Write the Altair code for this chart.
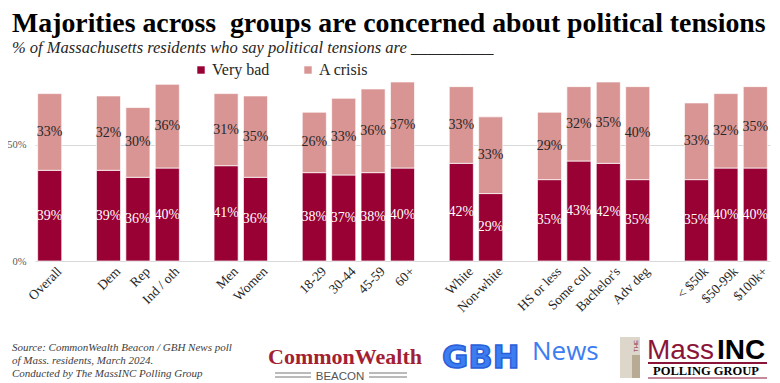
import altair as alt
import pandas as pd

# ---- data ----
slots = ["Overall", "gap1", "Dem", "Rep", "Ind / oth", "gap2", "Men", "Women", "gap3",
         "18-29", "30-44", "45-59", "60+", "gap4", "White", "Non-white", "gap5",
         "HS or less", "Some coll", "Bachelor's", "Adv deg", "gap6",
         "< $50k", "$50-99k", "$100k+"]
categories = [s for s in slots if not s.startswith("gap")]
very_bad = [39, 39, 36, 40, 41, 36, 38, 37, 38, 40, 42, 29, 35, 43, 42, 35, 35, 40, 40]
a_crisis = [33, 32, 30, 36, 31, 35, 26, 33, 36, 37, 33, 33, 29, 32, 35, 40, 33, 32, 35]
series = ["Very bad", "A crisis"]
y_ticks = [0, 0.5]

rows = []
for c, vb, ac in zip(categories, very_bad, a_crisis):
    rows.append({"cat": c, "series": series[0], "value": vb / 100, "order": 0})
    rows.append({"cat": c, "series": series[1], "value": ac / 100, "order": 1})
df = pd.DataFrame(rows)

DARK = "#990033"
LIGHT = "#d99594"
SERIF = "Liberation Serif"
SANS = "Liberation Sans"

x_scale = alt.Scale(domain=slots, paddingInner=0.18, paddingOuter=0.09)
x_enc = alt.X("cat:N", sort=slots, scale=x_scale,
              axis=alt.Axis(title=None, labelAngle=-45, ticks=False, domain=False,
                            labelFont=SERIF, labelFontSize=13.5, labelColor="#262626",
                            labelPadding=3, labelOffset=5,
                            labelExpr="indexof(datum.value, 'gap') == 0 ? '' : datum.value"))
y_scale = alt.Scale(domain=[0, 0.8])

base = alt.Chart(df)

bars = base.mark_bar(stroke="white", strokeWidth=0.7).encode(
    x=x_enc,
    y=alt.Y("value:Q", stack="zero", scale=y_scale,
            axis=alt.Axis(title=None, values=y_ticks, format=".0%", grid=True,
                          gridColor="#d9d9d9", domain=False, ticks=False,
                          labelFont=SERIF, labelFontSize=10.5, labelColor="#595959",
                          labelPadding=9)),
    color=alt.Color("series:N", scale=alt.Scale(domain=series, range=[DARK, LIGHT]),
                    legend=alt.Legend(title=None, orient="none", direction="horizontal",
                                      legendX=158, legendY=-13, symbolType="square",
                                      symbolSize=55, symbolStrokeWidth=0,
                                      labelFont=SERIF, labelFontSize=16,
                                      labelColor="#262626", columnPadding=30,
                                      labelOffset=3)),
    order=alt.Order("order:Q"),
)

labels = base.transform_stack(
    stack="value", groupby=["cat"], sort=[alt.SortField("order")], as_=["y0", "y1"]
).transform_calculate(
    mid="(datum.y0 + datum.y1) / 2",
    lab="format(datum.value, '.0%')"
).mark_text(font=SERIF, fontSize=14, baseline="middle").encode(
    x=alt.X("cat:N", sort=slots, scale=x_scale),
    y=alt.Y("mid:Q", scale=y_scale),
    text="lab:N",
    color=alt.condition("datum.series == 'Very bad'", alt.value("white"), alt.value("#262626")),
)

one = alt.Data(values=[{}])


def note(text, x, y, size, align="left", **kw):
    return alt.Chart(one).mark_text(text=text, fontSize=size, align=align,
                                    baseline="alphabetic", **kw).encode(
        x=alt.value(x), y=alt.value(y))


def hline(x1, x2, y, color, w=1):
    return alt.Chart(one).mark_rule(color=color, strokeWidth=w).encode(
        x=alt.value(x1), x2=alt.value(x2), y=alt.value(y))


def box(x1, x2, y1, y2, color):
    return alt.Chart(one).mark_rect(color=color).encode(
        x=alt.value(x1), x2=alt.value(x2), y=alt.value(y1), y2=alt.value(y2))


annotations = [
    note("Majorities across\u00a0 groups are concerned about political tensions", -23, -43, 27.8,
         font=SERIF, fontWeight="bold", color="black"),
    note("% of Massachusetts residents who say political tensions are __________", -23, -22, 16.5,
         font=SERIF, fontStyle="italic", color="#262626"),
    note("Source: CommonWealth Beacon / GBH News poll\nof Mass. residents, March 2024.\nConducted by The MassINC Polling Group",
         -23, 276, 11, font=SERIF, fontStyle="italic", color="#404040", lineBreak="\n", lineHeight=13),
    # CommonWealth Beacon
    note("CommonWealth", 310, 289, 22, align="center", font=SERIF, fontWeight="bold", color="#a31f34"),
    note("BEACON", 305, 305, 11.5, align="center", font=SANS, color="#555555"),
    hline(240, 276, 298, "#777777"), hline(240, 276, 302, "#777777"),
    hline(334, 372, 298, "#777777"), hline(334, 372, 302, "#777777"),
    # GBH News
    note("GBH", 407, 293, 32, font="DejaVu Sans", fontWeight="bold", color="#3d7df2",
         stroke="#2a5fd8", strokeWidth=1.5),
    note("News", 497, 285, 26, font="Open Sans", color="#3d7df2"),
    # MassINC
    box(585, 605, 262, 303, "#ddd6cb"),
    box(597, 605, 280, 303, "#b8ab94"),
    note("THE", 603, 271, 6, align="center", font=SANS, color="#8b1538", angle=270),
    note("Mass", 612, 284, 28, font=SANS, color="#8b1538"),
    note("INC", 682, 284, 28, font=SANS, fontWeight="bold", color="black"),
    hline(613, 732, 288, "#8b1538", 2),
    note("POLLING GROUP", 671, 300, 12.5, align="center", font=SERIF, fontWeight="bold", color="black"),
    hline(613, 732, 303, "#8b1538", 1),
]

chart = alt.layer(bars, labels, *annotations).properties(
    width=735, height=186,
    padding={"left": 27, "top": 67, "right": 2, "bottom": 125},
    autosize=alt.AutoSizeParams(type="none"),
    background="white",
).configure_view(stroke=None)

chart.save("out.html", embed_options={"renderer": "svg", "actions": False})
